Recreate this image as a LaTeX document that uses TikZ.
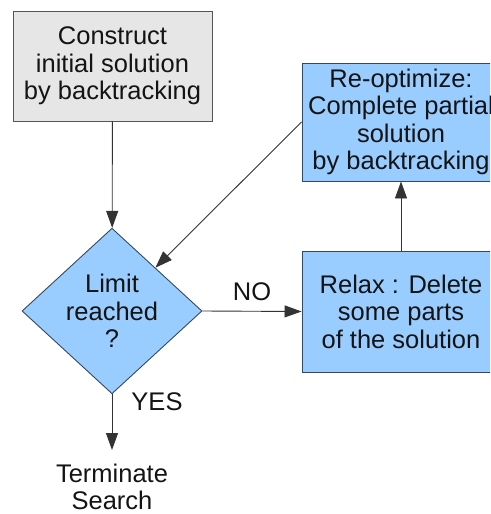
\documentclass[tikz,border=0pt]{standalone}
\usepackage{fontspec}
\setmainfont{Liberation Sans}
\usetikzlibrary{shapes.geometric,arrows.meta}
\definecolor{boxblue}{HTML}{99CCFF}
\definecolor{boxgray}{HTML}{E6E6E6}
\definecolor{edgeblue}{HTML}{34495C}
\definecolor{edgegray}{HTML}{555555}
\definecolor{inkdark}{HTML}{141414}
\definecolor{wire}{HTML}{333333}
\begin{document}
\begin{tikzpicture}[x=1pt,y=-1pt,
  every node/.style={font=\fontsize{25.5}{27.5}\selectfont, text=inkdark, align=center},
  procbox/.style={rectangle, draw=edgeblue, fill=boxblue, line width=0.9pt, inner sep=0pt},
  startbox/.style={rectangle, draw=edgegray, fill=boxgray, line width=0.9pt, inner sep=0pt,
    minimum width=199pt, minimum height=110pt},
  decision/.style={diamond, draw=edgeblue, fill=boxblue, line width=0.9pt, inner sep=0pt,
    minimum width=180pt, minimum height=139pt},
  flow/.style={draw=wire, line width=0.9pt, -{Triangle[length=17pt,width=12pt]}},
  plain/.style={inner sep=0pt}
]
\useasboundingbox (0,0) rectangle (490,514);
\clip (0,0) rectangle (490,514);

% start box
\node[startbox] (init) at (112.5,66) {Construct\\initial solution\\by backtracking};

% decision diamond
\node[decision] (limit) at (112,311) {Limit\\reached\\?};

% relax and re-optimize boxes (they run past the right border)
\node[procbox, minimum width=198pt, minimum height=121pt] (relax) at (401,311.5)
  {Relax : Delete\\some parts\\of the solution};
\node[procbox, minimum width=198pt, minimum height=118pt] (reopt) at (401,122)
  {Re-optimize:\\Complete partial\\solution\\by backtracking};

% end label
\node[plain] (term) at (112,487) {Terminate\\Search};
\coordinate (termtop) at (112,450);

% connectors
\draw[flow] (init) -- (limit);
\draw[flow] (limit.east) -- node[plain, above=10pt] (nolab) {NO} (relax.west);
\draw[flow] (relax) -- (reopt);
\draw[flow] (reopt.west) -- (limit);
\draw[flow] (limit.south) -- (termtop);
\node[plain] (yeslab) at (157,401.5) {YES};
\end{tikzpicture}
\end{document}
